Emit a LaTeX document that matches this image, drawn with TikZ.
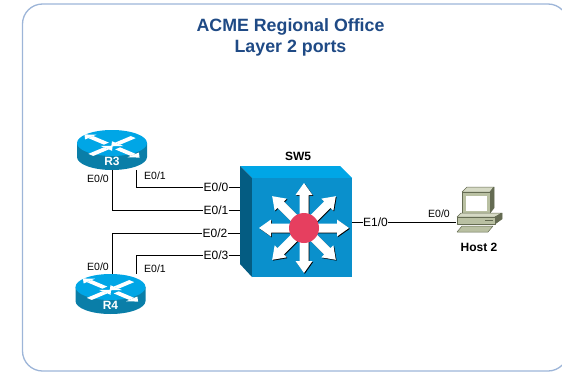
\documentclass[tikz,border=0pt]{standalone}
\usepackage{fontspec}
\setmainfont{Liberation Sans}
\usetikzlibrary{positioning}

\definecolor{frameblue}{HTML}{9DB5D8}
\definecolor{titleblue}{HTML}{1F4A85}
\definecolor{ciscotop}{HTML}{00A6E6}
\definecolor{ciscobody}{HTML}{0A7EA8}
\definecolor{ciscoface}{HTML}{0A90CC}
\definecolor{ciscoside}{HTML}{045C82}
\definecolor{hubred}{HTML}{E63F5F}
\definecolor{pcbeige}{HTML}{B9C0A2}
\definecolor{pclight}{HTML}{D5D9C4}
\definecolor{pcdark}{HTML}{646B52}

\begin{document}
\begin{tikzpicture}[
    x=1pt, y=-1pt,
    title/.style={text=titleblue, font=\fontsize{17.8}{20}\selectfont\bfseries, inner sep=0pt},
    devname/.style={font=\fontsize{12}{14}\selectfont\bfseries, inner sep=0pt},
    portlabel/.style={font=\fontsize{12}{14}\selectfont, inner sep=0pt},
    sidelabel/.style={font=\fontsize{10.5}{12}\selectfont, inner sep=0pt},
    routerbox/.style={minimum width=70pt, minimum height=40pt, inner sep=0pt},
    pcpart/.style={draw=pcdark, line width=0.5pt, line join=round},
    link/.style={draw=black, line width=0.8pt}
]
\useasboundingbox (0,0) rectangle (562,372);

% Frame
\draw[frameblue, line width=1.3pt, rounded corners=20pt] (22.5,4) rectangle (568,371);

% Title
\node[title] (line1) at (290.5,27) {ACME Regional Office};
\node[title] (line2) at (290.5,48) {Layer 2 ports};

% Routers
\foreach \cx/\cy in {112/143, 110.5/287} {
  \begin{scope}[shift={(\cx,\cy)}]
    \fill[ciscobody] (-35,0) -- (-35,14) arc[start angle=180, end angle=0, x radius=35, y radius=13] -- (35,0) -- cycle;
    \fill[ciscotop] (0,0) ellipse[x radius=35, y radius=13];
    \begin{scope}[yshift=-3pt, yscale=0.42]
      \foreach \a/\ri/\ro in {45/30/8, 135/8/30, 225/30/8, 315/8/30} {
        \fill[white, rotate=\a] (\ri,-3.5) -- (\ro,-3.5) -- (\ro,3.5) -- (\ri,3.5) -- cycle;
        \fill[white, rotate=\a] (\ro,-8) -- (\ro,8) -- ({\ro+(\ro-\ri)/abs(\ro-\ri)*9},0) -- cycle;
      }
    \end{scope}
  \end{scope}
}
\node[routerbox] (r3) at (112,150) {};
\node[routerbox] (r4) at (110.5,294) {};
\node[devname, text=white] (r3name) at (112,161.5) {R3};
\node[devname, text=white] (r4name) at (110.5,305.5) {R4};

% Switch
\fill[ciscotop] (240,166) -- (340,166) -- (352,178) -- (252,178) -- cycle;
\fill[ciscoside] (240,166) -- (252,178) -- (252,277) -- (240,264) -- cycle;
\node[fill=ciscoface, minimum width=100pt, minimum height=99pt, inner sep=0pt] (sw5) at (302,227.5) {};
\foreach \a in {0,45,...,315} {
  \fill[black, shift={(304.8,228.8)}, rotate=\a]
    (0,-4.5) -- (33,-4.5) -- (33,-8.5) -- (45,0) -- (33,8.5) -- (33,4.5) -- (0,4.5) -- cycle;
  \fill[white, shift={(304,228)}, rotate=\a]
    (0,-4.5) -- (33,-4.5) -- (33,-8.5) -- (45,0) -- (33,8.5) -- (33,4.5) -- (0,4.5) -- cycle;
}
\fill[hubred] (304,228) circle (15);
\coordinate (swedge) at (240,228);
\node[devname] (sw5name) at (298,156) {SW5};

% Host
\fill[pclight, pcpart] (462,192) -- (467,187) -- (494,187) -- (490,192) -- cycle;
\fill[pcdark, pcpart] (490,192) -- (494,187) -- (494,208) -- (490,213) -- cycle;
\fill[pcbeige, pcpart] (462,192) rectangle (490,213);
\fill[white] (466,195.5) rectangle (487,211);
\fill[pclight, pcpart] (457,217) -- (461,213) -- (502,213) -- (495,217) -- cycle;
\fill[pcdark, pcpart] (495,217) -- (502,213) -- (502,219) -- (495,224) -- cycle;
\fill[pcbeige, pcpart] (457,217) rectangle (495,224);
\draw[pcdark, line width=0.7pt] (485,220.5) -- (493,220.5);
\fill[pcbeige, pcpart] (457,232) -- (462,226) -- (493,226) -- (488,232) -- cycle;
\node[minimum width=44pt, minimum height=46pt, inner sep=0pt] (host) at (478,210) {};
\node[devname] (hostname) at (479,247) {Host 2};

% Port labels
\node[portlabel] (p0) at (216,187) {E0/0};
\node[portlabel] (p1) at (216,210) {E0/1};
\node[portlabel] (p2) at (215,233) {E0/2};
\node[portlabel] (p3) at (216,255.5) {E0/3};
\node[portlabel] (e10) at (375.5,222) {E1/0};
\node[sidelabel] (r3e0) at (98,178.5) {E0/0};
\node[sidelabel] (r3e1) at (155,175.5) {E0/1};
\node[sidelabel] (r4e0) at (98,266.5) {E0/0};
\node[sidelabel] (r4e1) at (155,269) {E0/1};
\node[sidelabel] (hoste0) at (439,214) {E0/0};

% Links
\draw[link] (r3.south -| 136,0) |- (p0.west);
\draw[link] (r3.south) |- (p1.west);
\draw[link] (r4.north -| 112,0) |- (p2.west);
\draw[link] (r4.north -| 136,0) |- (p3.west);
\draw[link] (p0.east) -- (swedge |- p0);
\draw[link] (p1.east) -- (swedge |- p1);
\draw[link] (p2.east) -- (swedge |- p2);
\draw[link] (p3.east) -- (swedge |- p3);
\draw[link] (sw5.east |- e10) -- (e10.west);
\draw[link] (e10.east) -- (host.west |- e10);

\end{tikzpicture}
\end{document}
